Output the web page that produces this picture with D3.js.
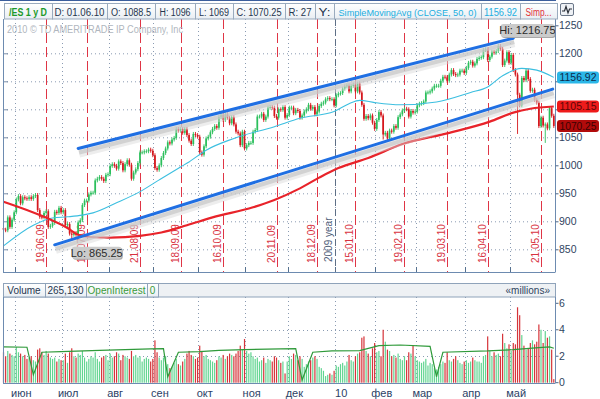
<!DOCTYPE html>
<html><head><meta charset="utf-8">
<script src="https://cdn.jsdelivr.net/npm/d3@7/dist/d3.min.js"></script>
<style>
html,body{margin:0;padding:0;background:#fff;}
svg{display:block;font-family:"Liberation Sans",Arial,sans-serif;}
</style></head><body>
<svg id="chart" width="600" height="399"></svg>
<script>
// ---------------- DATA ----------------
const firstOpen = 888;
const closes = [
 885,884,907,890,903,916,
 939,945,932,943,941,940,943,940,945,947,
 920,908,907,915,918,890,892,897,917,915,924,916,
 920,893,895,878,876,879,876,898,902,929,937,937,948,951,951,973,976,979,976,972,983,984,
 999,1002,999,994,1007,1004,991,1002,1009,1001,976,987,993,1004,1023,1023,1025,1025,1028,1026,1018,
 995,992,1000,1013,1022,1030,1041,1039,1046,1049,1065,1062,1065,1058,1065,1054,1044,1038,1056,1054,1051,
 1023,1019,1034,1048,1051,1059,1065,1070,1067,1086,1090,1081,1091,1085,1075,1086,1073,1060,1057,1036,1060,1030,
 1036,1040,1040,1060,1063,1087,1087,1092,1081,1087,1103,1104,1103,1088,1085,1100,1099,1104,1085,1090,
 1103,1103,1093,1099,1097,1085,1089,1096,1100,1108,1101,1104,1091,1096,1106,1110,1112,1118,1120,1118,1118,1107,
 1125,1128,1129,1137,1141,1143,1132,1142,1144,1132,1146,1130,1108,1083,1088,1084,1089,1076,1065,
 1081,1095,1089,1055,1058,1048,1062,1060,1070,1067,1086,1091,1098,1101,1100,1087,1097,1094,1096,
 1107,1110,1111,1114,1130,1130,1132,1137,1142,1142,1142,1151,1158,1157,1151,1162,1170,1163,1161,1162,1169,1169,1165,
 1174,1183,1185,1178,1182,1190,1192,1193,1206,1207,1188,1194,1203,1201,1204,1213,1208,1179,1187,1202,1183,
 1197,1170,1162,1126,1107,1156,1152,1169,1154,1133,1135,1117,1112,1070,1085,1071,1073,1066,1102,1088.5,1070.25
];
// labelled / notable extremes: [barIndex, low, high]
const extremes = [[32, 865.25, null], [233, null, 1216.75], [241, 1056, null], [254, 1040, null], [178, 1046, null]];
const volumes = [
 2.3,2.0,2.4,2.2,2.1,2.0,
 2.7,2.3,2.2,2.0,2.1,1.8,1.9,2.0,1.7,1.6,
 2.5,2.6,2.3,2.1,2.4,2.2,1.9,1.8,1.9,1.6,1.8,1.7,
 1.7,2.2,1.5,2.3,2.6,2.0,1.9,2.2,2.1,2.4,1.9,1.6,1.8,2.0,1.9,2.3,1.8,1.6,1.9,2.0,2.1,1.7,
 2.2,1.9,2.0,2.3,2.2,1.7,2.1,2.0,1.9,1.8,2.4,2.0,2.1,1.9,2.0,1.6,1.8,1.9,1.8,1.6,1.8,
 3.2,2.3,1.9,1.7,1.9,2.0,1.4,1.1,1.2,1.5,1.8,1.4,1.3,1.6,1.8,2.2,2.4,2.1,2.0,1.8,1.9,
 2.8,2.4,2.0,2.1,1.8,1.7,1.6,1.5,1.7,2.0,1.9,2.1,1.8,2.0,2.2,2.1,2.0,2.2,2.4,2.8,2.5,3.3,
 2.4,2.2,2.3,2.0,1.8,1.9,1.6,1.7,1.9,1.5,1.8,1.7,1.6,2.0,1.9,1.7,1.5,1.6,0.7,1.6,
 2.0,1.8,2.2,2.1,1.7,2.0,1.8,1.2,1.4,1.6,1.7,1.9,2.0,1.8,1.2,1.1,0.9,0.5,0.6,0.7,0.6,0.9,
 1.3,1.2,1.4,1.5,1.3,1.6,2.1,1.7,1.6,2.0,2.2,2.3,3.4,3.5,2.4,2.2,2.0,2.6,3.0,
 2.3,2.4,2.0,4.0,3.1,2.5,2.4,2.0,2.1,1.9,2.2,1.8,1.7,2.0,1.7,2.3,2.2,2.8,2.0,
 1.7,1.6,1.5,1.6,1.8,1.3,1.5,1.4,1.1,1.0,1.2,1.4,1.6,1.5,2.3,1.7,1.6,1.8,2.0,1.7,1.5,1.4,1.6,
 1.7,1.5,1.6,1.9,1.7,1.6,1.6,1.5,2.0,2.1,3.5,2.4,2.0,2.3,2.1,2.2,2.0,3.7,3.0,2.6,2.9,
 2.4,3.0,2.9,5.7,5.1,3.6,2.8,2.5,2.6,3.0,3.2,2.9,3.1,4.4,4.0,3.0,3.9,3.4,3.5,2.5,0.27
];
const sma50 = [[0,856],[14,893],[23,906],[30,908],[37,911],[42,915],[53,933],[64,953],[73,974],[83,997],[87,1006],[95,1027],[108,1048],[127,1069],[139,1084],[155,1096],[162,1110],[167,1116],[174,1112],[186,1108],[203,1113],[219,1130],[227,1140],[234,1160],[243,1173],[250,1170],[258,1157]];
const sma200 = [[0,935],[19,908],[30,888],[35,876],[41,872],[50,871],[64,874],[74,880],[86,893],[98,907],[117,925],[127,938],[138,957],[148,978],[157,995],[171,1013],[187,1038],[209,1058],[228,1078],[239,1094],[247,1101],[258,1105]];
const openInterest = [[0,2.70],[11,2.68],[14,0.6],[18,2.3],[27,2.35],[45,2.45],[69,2.55],[75,2.58],[77,0.45],[82,2.3],[92,2.35],[101,2.45],[113,2.5],[130,2.55],[137,2.58],[140,0.2],[145,2.3],[154,2.4],[167,2.42],[176,2.8],[186,2.85],[200,2.75],[203,0.45],[206,2.3],[227,2.4],[239,2.5],[251,2.65],[256,2.7],[258,2.6]];
const trendUpper = [[35,1030],[239,1227]];
const trendLower = [[24,858],[257.5,1136]];
const monthStarts = [6,28,50,71,92,114,134,156,175,194,217,238];
const monthLabels = ["июн","июл","авг","сен","окт","ноя","дек","10","фев","мар","апр","май"];
const expiryIdx = [20,39,64,83,103,128,147,165,188,208,227,252];
const expiryLabels = ["19.06.09","17.07.09","21.08.09","18.09.09","16.10.09","20.11.09","18.12.09","15.01.10","19.02.10","19.03.10","16.04.10","21.05.10"];
const yearMark = {idx:155.3, label:"2009 year"};
const priceTicks = [850,900,950,1000,1050,1100,1150,1200,1250];
const priceTickLabels = [850,900,950,1000,1050,1200,1250]; // 1100 & 1150 are covered by value tags
const volTicks = [0,2,4,6];
const lastValues = [["1156.92",1156.92],["1105.15",1105.15],["1070.25",1070.25]];
const headerTexts = ["/ES 1 y D","D: 01.06.10","O: 1088.5","H: 1096","L: 1069","C: 1070.25","R: 27","Y:","SimpleMovingAvg (CLOSE, 50, 0)","1156.92","Simp..."];
const volHeaderTexts = ["Volume","265,130","OpenInterest","0"];
const copyright = "2010 © TD AMERITRADE IP Company, Inc";

// ---------------- CHART ----------------
const svg = d3.select('#chart');
const PL = 3, PR = 555.5, PT = 19, PB = 272, VT = 297, VB = 383;
const x = d3.scaleLinear().domain([0, closes.length - 1]).range([3.5, 553.8]);
const yP = d3.scaleLinear().domain([850, 1200]).range([249.3, 53.3]);
const yV = d3.scaleLinear().domain([0, 6]).range([382.7, 303.3]);
const gridCol = '#8a9bb2', frameCol = '#6d8bb0';

svg.append('rect').attr('width', 600).attr('height', 399).attr('fill', '#fff');

const bars = closes.map((c, i) => {
  const o = i ? closes[i - 1] : firstOpen;
  let hi = Math.max(o, c) + 3.5, lo = Math.min(o, c) - 3.5;
  extremes.forEach(e => { if (e[0] === i) { if (e[1] != null) lo = e[1]; if (e[2] != null) hi = e[2]; } });
  return {i, o, c, hi, lo, v: volumes[i], up: c >= o};
});

// ---- main panel grid
const g = svg.append('g');
g.selectAll('.hg').data(priceTicks.filter(t => t <= 1200)).join('line')
  .attr('x1', PL).attr('x2', PR).attr('y1', d => yP(d) + 0.5).attr('y2', d => yP(d) + 0.5)
  .attr('stroke', gridCol).attr('stroke-dasharray', '1,3');
g.selectAll('.lt').data(priceTicks.filter(t => t <= 1200)).join('line')
  .attr('x1', PL).attr('x2', PL + 5).attr('y1', d => yP(d) + 0.5).attr('y2', d => yP(d) + 0.5)
  .attr('stroke', '#7a8ea8');
g.selectAll('.vg').data(monthStarts).join('line')
  .attr('x1', d => Math.round(x(d - 0.7)) + 0.5).attr('x2', d => Math.round(x(d - 0.7)) + 0.5)
  .attr('y1', PT).attr('y2', PB).attr('stroke', gridCol).attr('stroke-dasharray', '1,3');
g.selectAll('.bt').data(monthStarts).join('line')
  .attr('x1', d => Math.round(x(d - 0.7)) + 0.5).attr('x2', d => Math.round(x(d - 0.7)) + 0.5)
  .attr('y1', PB - 5).attr('y2', PB).attr('stroke', '#55708f');

g.selectAll('.ex').data(expiryIdx).join('line')
  .attr('x1', d => Math.round(x(d)) + 0.5).attr('x2', d => Math.round(x(d)) + 0.5)
  .attr('y1', PT).attr('y2', PB).attr('stroke', '#df3545').attr('stroke-dasharray', '10,4');
g.selectAll('.exl').data(expiryIdx).join('text')
  .attr('transform', d => `translate(${Math.round(x(d)) - 2.5},263) rotate(-90)`)
  .attr('font-size', 10).attr('fill', '#d8323f').text((d, i) => expiryLabels[i]);
g.append('line').attr('x1', Math.round(x(yearMark.idx)) + 0.5).attr('x2', Math.round(x(yearMark.idx)) + 0.5)
  .attr('y1', PT).attr('y2', PB).attr('stroke', '#5e6f86').attr('stroke-dasharray', '7,3');
g.append('text').attr('transform', `translate(${Math.round(x(yearMark.idx)) - 3},262) rotate(-90)`)
  .attr('font-size', 10).attr('fill', '#4f6079').text(yearMark.label);

svg.append('text').attr('x', 7).attr('y', 32.5).attr('font-size', 10).attr('fill', '#b0b6be')
  .attr('textLength', 176).attr('lengthAdjust', 'spacingAndGlyphs').text(copyright);

// candles
const cg = svg.append('g');
cg.selectAll('.wk').data(bars).join('line')
  .attr('x1', d => x(d.i)).attr('x2', d => x(d.i)).attr('y1', d => yP(d.hi)).attr('y2', d => yP(d.lo))
  .attr('stroke', d => d.up ? '#2bbf5c' : '#d5171d').attr('stroke-width', 0.9);
cg.selectAll('.bd').data(bars).join('rect')
  .attr('x', d => x(d.i) - 0.85).attr('width', 1.7)
  .attr('y', d => yP(Math.max(d.o, d.c)))
  .attr('height', d => Math.max(0.8, Math.abs(yP(d.o) - yP(d.c))))
  .attr('fill', d => d.up ? '#2bbf5c' : '#d5171d');

// moving averages
const line = d3.line().x(d => x(d[0])).y(d => yP(d[1])).curve(d3.curveMonotoneX);
svg.append('path').attr('d', line(sma50)).attr('fill', 'none').attr('stroke', '#3cbfe0').attr('stroke-width', 1.1);
svg.append('path').attr('d', line(sma200)).attr('fill', 'none').attr('stroke', '#e8232a').attr('stroke-width', 2.2);

// trend lines with shadow
const tl = d3.line().x(d => x(d[0])).y(d => yP(d[1]));
[trendUpper, trendLower].forEach(t => {
  svg.append('path').attr('d', tl(t)).attr('transform', 'translate(1,5)').attr('fill', 'none')
    .attr('stroke', '#d8d8d8').attr('stroke-width', 8).attr('opacity', 0.45);
  svg.append('path').attr('d', tl(t)).attr('transform', 'translate(1,4)').attr('fill', 'none')
    .attr('stroke', '#c6c6c6').attr('stroke-width', 4).attr('opacity', 0.7);
  svg.append('path').attr('d', tl(t)).attr('fill', 'none').attr('stroke', '#1f6fe3').attr('stroke-width', 3).attr('stroke-linecap', 'round');
});

function tagBox(x0, y0, w, h, txt) {
  svg.append('rect').attr('x', x0 + 1).attr('y', y0 + 1).attr('width', w).attr('height', h).attr('rx', 3).attr('fill', '#a9a9a9');
  svg.append('rect').attr('x', x0).attr('y', y0).attr('width', w).attr('height', h).attr('rx', 3).attr('fill', '#cbcbcb');
  svg.append('text').attr('x', x0 + w / 2).attr('y', y0 + h / 2 + 3.8).attr('text-anchor', 'middle')
    .attr('font-size', 11).attr('fill', '#2b2b2b').text(txt);
}
tagBox(x(233), yP(1216.75) - 20, 54, 13, 'Hi: 1216.75');
tagBox(x(32), yP(865.25) + 6, 50, 12, 'Lo: 865.25');

svg.append('line').attr('x1', PL + 0.5).attr('x2', PL + 0.5).attr('y1', PT).attr('y2', PB).attr('stroke', frameCol);
svg.append('line').attr('x1', PL).attr('x2', PR).attr('y1', PB + 0.5).attr('y2', PB + 0.5).attr('stroke', frameCol);
svg.append('line').attr('x1', PR).attr('x2', PR).attr('y1', PT).attr('y2', PB).attr('stroke', frameCol);

const ax = svg.append('g');
ax.selectAll('.pt').data(priceTicks).join('line')
  .attr('x1', PR).attr('x2', PR + 3).attr('y1', d => yP(d) + 0.5).attr('y2', d => yP(d) + 0.5).attr('stroke', '#4d6788');
ax.selectAll('.pl').data(priceTickLabels).join('text')
  .attr('x', 559).attr('y', d => yP(d) + 3.7).attr('font-size', 10.5).attr('fill', '#2f4460').text(d => d);

const boxFill = ['#2bb7e8', '#ee1b1b', '#b10b0b'], boxText = ['#0c2c4c', '#5c0606', '#3c0202'];
lastValues.forEach((lv, i) => {
  const cy = yP(lv[1]);
  svg.append('rect').attr('x', 557).attr('y', cy - 6).attr('width', 42).attr('height', 12).attr('rx', 3).attr('fill', boxFill[i]);
  svg.append('text').attr('x', 578).attr('y', cy + 3.8).attr('text-anchor', 'middle').attr('font-size', 10.5)
    .attr('textLength', 37).attr('lengthAdjust', 'spacingAndGlyphs').attr('fill', boxText[i]).text(lv[0]);
});

// header
svg.append('line').attr('x1', 0).attr('x2', 556).attr('y1', 0.5).attr('y2', 0.5).attr('stroke', '#3b5e9c');
const hEdges = [4, 52, 107, 155, 195, 233, 285, 315, 334, 481, 520, 557];
const hTextW = [38, 50, 40, 31, 30, 45, 23, 12, 138, 33, 26];
const hSize = [10, 10, 10, 10, 10, 10, 10, 10, 9.2, 10, 10];
const hCols = ['#1c9a2b', '#25364f', '#25364f', '#25364f', '#25364f', '#25364f', '#25364f', '#25364f', '#22aee0', '#22aee0', '#e03039'];
const defs = svg.append('defs');
const lg = defs.append('linearGradient').attr('id', 'hg').attr('x1', 0).attr('x2', 0).attr('y1', 0).attr('y2', 1);
lg.append('stop').attr('offset', 0).attr('stop-color', '#ffffff');
lg.append('stop').attr('offset', 1).attr('stop-color', '#e9eef3');
headerTexts.forEach((t, i) => {
  const x0 = hEdges[i], x1 = hEdges[i + 1];
  svg.append('rect').attr('x', x0 + 0.5).attr('y', 3.5).attr('width', x1 - x0).attr('height', 15.5)
    .attr('fill', 'url(#hg)').attr('stroke', '#9aabbe');
  svg.append('text').attr('x', (x0 + x1) / 2).attr('y', 15.5).attr('text-anchor', 'middle')
    .attr('font-size', hSize[i]).attr('font-weight', i === 0 ? 'bold' : 'normal')
    .attr('textLength', hTextW[i]).attr('lengthAdjust', 'spacingAndGlyphs')
    .attr('fill', hCols[i]).text(t);
});
svg.append('rect').attr('x', 560.5).attr('y', 3.5).attr('width', 13).attr('height', 12).attr('rx', 1.5)
  .attr('fill', '#eef1f5').attr('stroke', '#6a7688');
svg.append('path').attr('d', 'M562,11 L564.5,11 L566,6.5 L568,13 L569.5,9 L572,9')
  .attr('fill', 'none').attr('stroke', '#2a2f38').attr('stroke-width', 1.2);

// ---- volume panel
const vEdges = [3, 45, 86, 147, 158];
const vCols = ['#25364f', '#25364f', '#3a9a3a', '#3a9a3a'];
svg.append('rect').attr('x', 3.5).attr('y', 283.5).attr('width', 552).attr('height', 13.5)
  .attr('fill', '#eef1f4').attr('stroke', '#8fa3ba');
volHeaderTexts.forEach((t, i) => {
  const x0 = vEdges[i], x1 = vEdges[i + 1];
  svg.append('rect').attr('x', x0 + 0.5).attr('y', 283.5).attr('width', x1 - x0).attr('height', 13.5)
    .attr('fill', 'url(#hg)').attr('stroke', '#8fa3ba');
  svg.append('text').attr('x', (x0 + x1) / 2).attr('y', 294).attr('text-anchor', 'middle').attr('font-size', 10)
    .attr('fill', vCols[i]).text(t);
});
svg.append('text').attr('x', 550).attr('y', 294).attr('text-anchor', 'end').attr('font-size', 10)
  .attr('fill', '#2f4460').text('«millions»');

const vg = svg.append('g');
vg.selectAll('.vh').data([2, 4]).join('line')
  .attr('x1', PL).attr('x2', PR).attr('y1', d => Math.round(yV(d)) + 0.5).attr('y2', d => Math.round(yV(d)) + 0.5)
  .attr('stroke', gridCol).attr('stroke-dasharray', '1,3');
vg.selectAll('.vv').data(monthStarts).join('line')
  .attr('x1', d => Math.round(x(d - 0.7)) + 0.5).attr('x2', d => Math.round(x(d - 0.7)) + 0.5)
  .attr('y1', VT).attr('y2', VB).attr('stroke', gridCol).attr('stroke-dasharray', '1,3');
vg.selectAll('.vb').data(bars).join('rect')
  .attr('x', d => x(d.i) - 0.6).attr('width', 1.2)
  .attr('y', d => yV(d.v)).attr('height', d => yV(0) - yV(d.v))
  .attr('fill', d => d.up ? '#62d591' : '#d6343a');
svg.append('path').attr('d', d3.line().x(d => x(d[0])).y(d => yV(d[1]))(openInterest))
  .attr('fill', 'none').attr('stroke', '#2f9a3a').attr('stroke-width', 1.2);

svg.append('line').attr('x1', PL + 0.5).attr('x2', PL + 0.5).attr('y1', VT).attr('y2', VB).attr('stroke', frameCol);
svg.append('line').attr('x1', PL).attr('x2', PR).attr('y1', VB + 0.5).attr('y2', VB + 0.5).attr('stroke', frameCol);
svg.append('line').attr('x1', PR).attr('x2', PR).attr('y1', VT).attr('y2', VB).attr('stroke', frameCol);
vg.selectAll('.vt').data(volTicks).join('line')
  .attr('x1', PR).attr('x2', PR + 3).attr('y1', d => yV(d)).attr('y2', d => yV(d)).attr('stroke', '#4d6788');
vg.selectAll('.vl').data(volTicks).join('text')
  .attr('x', 559).attr('y', d => yV(d) + 3.7).attr('font-size', 10.5).attr('fill', '#2f4460').text(d => d);

svg.selectAll('.ml').data(monthStarts).join('text')
  .attr('x', d => x(d - 0.7) + 6.5).attr('y', 396.5).attr('text-anchor', 'middle')
  .attr('font-size', 11).attr('fill', '#2b3f66').text((d, i) => monthLabels[i]);
</script></body></html>
